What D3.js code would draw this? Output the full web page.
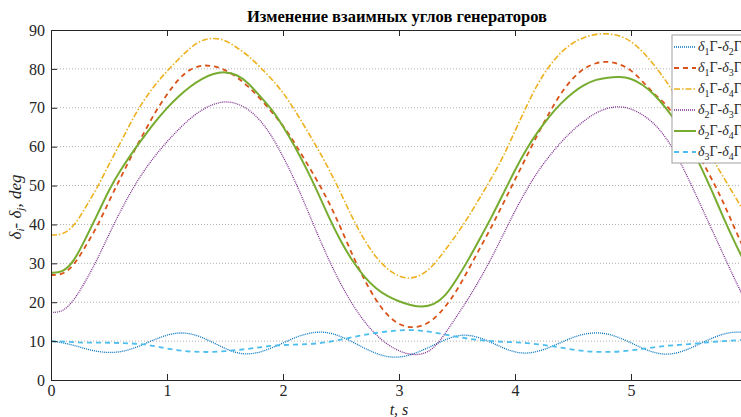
<!DOCTYPE html>
<html>
<head>
<meta charset="utf-8">
<script src="https://cdn.jsdelivr.net/npm/d3@7"></script>
<style>
  body { margin: 0; background: #fff; }
  svg { display: block; font-family: "Liberation Serif", "Times New Roman", serif; }
  .axis text { font-family: "Liberation Serif", "Times New Roman", serif; font-size: 16px; fill: #262626; }
  .axis path, .axis line { stroke: #262626; stroke-width: 1; }
</style>
</head>
<body>
<svg width="741" height="417"></svg>
<script>
var t = [0,0.1,0.2,0.3,0.4,0.5,0.6,0.7,0.8,0.9,1.0,1.1,1.2,1.3,1.4,1.5,1.6,1.7,1.8,1.9,
         2.0,2.1,2.2,2.3,2.4,2.5,2.6,2.7,2.8,2.9,3.0,3.1,3.2,3.3,3.4,3.5,3.6,3.7,3.8,3.9,
         4.0,4.1,4.2,4.3,4.4,4.5,4.6,4.7,4.8,4.9,5.0,5.1,5.2,5.3,5.4,5.5,5.6,5.7,5.8,5.9,6.0];

// d1-d2
var d12 = [10,9.6,8.9,8.0,7.3,7.0,7.2,8.0,9.2,10.5,11.6,12.2,12.0,11.0,9.6,8.1,6.9,6.6,7.1,8.2,
           9.5,10.9,11.9,12.4,12.2,11.2,9.8,8.2,6.8,5.9,5.8,6.4,7.6,9.0,10.4,11.5,11.6,10.9,9.6,8.2,
           7.1,6.8,7.3,8.4,9.7,11.0,11.9,12.2,11.9,10.9,9.6,8.1,7.0,6.5,6.9,8.0,9.4,10.8,11.9,12.4,12.2];
// d1-d3
var d13 = [27,27,29.5,34.5,39.5,46,52,58,63.5,69,73.5,77.5,80,81,80.8,79.8,78,75.5,72.5,69,
           65.5,61,56,51,45.5,39,32,25.8,20.5,16.5,14.2,13.4,13.8,15.5,18.8,23,28.5,34,39.5,45.5,
           51.5,57.5,63.5,69,74,77.8,80.3,81.6,82,81.3,79.8,76.8,73.5,71,67,62.5,57,51.5,45.5,38.5,32];
// d1-d4
var d14 = [37.3,37.3,39.5,44.5,49.5,55.5,61,67,72,76,79.5,82.5,85.5,87.5,88,87.5,85.5,83.5,80.5,77.5,
           74,69.5,64.5,59.5,54,48,41.5,36,31.5,28.5,26.5,26,27,29.5,33.5,37.5,42,47,52,57.5,
           64,70.5,76.5,81,84.5,86.8,88.2,89,89.1,88.6,87.2,84.5,81,77,72.5,67.5,62.5,57,52,47,42];
// d2-d3
var d23 = [17.4,17.4,20.5,25.5,31,37.5,43.5,49,53.8,57.8,61.3,64.5,67.3,69.5,71,71.7,71.2,69.7,67,63,
           57.5,51.5,44.5,37.3,30.5,24.5,19.3,15,11.6,9.1,7.4,6.5,6.5,8,12,16.5,21,26,31.5,37.5,
           43.5,49,53.8,57.8,61.3,64.3,66.8,68.8,70,70.4,69.8,68.3,66,62.5,57.5,51.5,45,38.5,32,25.5,19.5];
// d2-d4
var d24 = [27.6,27.6,30.5,36.5,42.5,49,54,58.5,62.5,66.5,70,73,75.5,77.5,78.8,79.3,78.6,76.5,73,69.8,
           65.3,60.2,54.5,48.3,41.5,35.5,30.5,26.5,23.5,21.5,20.2,19.2,18.7,19.3,21.5,26,31,36.5,42,48,
           54,59.5,64,68,71.3,74,76,77.3,77.8,78,77.6,76,73.5,70,66,61,55,48.5,41.5,35,29];
// d3-d4
var d34 = [10,9.9,9.7,9.6,9.6,9.6,9.5,9.4,9.2,8.7,8.1,7.6,7.3,7.2,7.2,7.4,7.7,8.0,8.4,8.8,
           9.0,9.1,9.2,9.4,9.8,10.4,11.0,11.6,12.1,12.5,12.8,12.9,12.7,12.2,11.7,11.1,10.6,10.2,10.0,9.8,
           9.7,9.5,9.2,8.8,8.3,7.8,7.4,7.2,7.2,7.3,7.6,8.0,8.4,8.8,9.0,9.2,9.5,9.8,10.0,10.2,10.4];

var xTicks = [0,1,2,3,4,5];
var yTicks = [0,10,20,30,40,50,60,70,80,90];
var gridVals = [10,20,30,40,50,60,70,80];

var series = [
  {a: 1, b: 2, values: d12, color: "#0072BD", dash: "1,1", width: 1.3},
  {a: 1, b: 3, values: d13, color: "#D95319", dash: "5,4", width: 1.8},
  {a: 1, b: 4, values: d14, color: "#EDB120", dash: "6,2,1.5,2", width: 1.6},
  {a: 2, b: 3, values: d23, color: "#7E2F8E", dash: "1,1", width: 1.3},
  {a: 2, b: 4, values: d24, color: "#77AC30", dash: null, width: 2},
  {a: 3, b: 4, values: d34, color: "#4DBEEE", dash: "5,4", width: 1.8}
];

var svg = d3.select("svg");
var pLeft = 51, pRight = 747, pTop = 30, pBottom = 380;

var x = d3.scaleLinear().domain([0, 6]).range([pLeft, pRight]);
var y = d3.scaleLinear().domain([0, 90]).range([pBottom, pTop]);

svg.append("defs").append("clipPath").attr("id", "clip")
  .append("rect").attr("x", pLeft).attr("y", pTop)
  .attr("width", pRight - pLeft).attr("height", pBottom - pTop);

// grid
svg.append("g").selectAll("line").data(gridVals).enter().append("line")
  .attr("x1", pLeft).attr("x2", pRight)
  .attr("y1", d => y(d)).attr("y2", d => y(d))
  .attr("stroke", "#b0b0b0").attr("stroke-width", 1)
  .attr("stroke-dasharray", "1,2");

// lines
var line = d3.line().x((d, i) => x(t[i])).y(d => y(d)).curve(d3.curveBasis);
var plot = svg.append("g").attr("clip-path", "url(#clip)");
series.forEach(function(s){
  plot.append("path")
    .attr("d", line(s.values))
    .attr("fill", "none")
    .attr("stroke", s.color)
    .attr("stroke-width", s.width)
    .attr("stroke-dasharray", s.dash);
});

// axes
svg.append("g").attr("class", "axis")
  .attr("transform", "translate(0," + pBottom + ")")
  .call(d3.axisBottom(x).tickValues(xTicks).tickFormat(d3.format("d"))
    .tickSize(-6).tickSizeOuter(0).tickPadding(5));
svg.append("g").attr("class", "axis")
  .attr("transform", "translate(0," + pTop + ")")
  .call(d3.axisTop(x).tickValues(xTicks).tickSize(-6).tickSizeOuter(0).tickFormat(""));
svg.append("g").attr("class", "axis")
  .attr("transform", "translate(" + pLeft + ",0)")
  .call(d3.axisLeft(y).tickValues(yTicks).tickFormat(d3.format("d"))
    .tickSize(-6).tickSizeOuter(0).tickPadding(6));

// title
svg.append("text")
  .attr("x", 397).attr("y", 22)
  .attr("text-anchor", "middle")
  .attr("font-size", 16.5).attr("font-weight", "bold").attr("fill", "#000")
  .text("Изменение взаимных углов генераторов");

// x label
svg.append("text")
  .attr("x", 399).attr("y", 415)
  .attr("text-anchor", "middle")
  .attr("font-size", 16).attr("font-style", "italic").attr("fill", "#262626")
  .text("t, s");

// y label
var yl = svg.append("text")
  .attr("transform", "translate(21,207) rotate(-90)")
  .attr("text-anchor", "middle")
  .attr("font-size", 17).attr("font-style", "italic").attr("fill", "#262626");
yl.append("tspan").text("δ");
yl.append("tspan").attr("font-size", 11).attr("dy", 3).text("i");
yl.append("tspan").attr("dy", -3).text("- δ");
yl.append("tspan").attr("font-size", 11).attr("dy", 3).text("j");
yl.append("tspan").attr("dy", -3).text(", deg");

// legend
var lg = svg.append("g");
lg.append("rect")
  .attr("x", 672).attr("y", 35).attr("width", 90).attr("height", 128)
  .attr("fill", "#fff").attr("stroke", "#a0a0a0").attr("stroke-width", 1);
series.forEach(function(s, i){
  var ly = 47 + i * 21;
  lg.append("line")
    .attr("x1", 674).attr("x2", 696).attr("y1", ly).attr("y2", ly)
    .attr("stroke", s.color).attr("stroke-width", s.width)
    .attr("stroke-dasharray", s.dash);
  var tx = lg.append("text").attr("x", 698).attr("y", ly + 4)
    .attr("font-size", 14).attr("fill", "#262626");
  tx.append("tspan").attr("font-style", "italic").text("δ");
  tx.append("tspan").attr("font-size", 10).attr("dy", 4).text(s.a);
  tx.append("tspan").attr("dy", -4).text("Г-");
  tx.append("tspan").attr("font-style", "italic").text("δ");
  tx.append("tspan").attr("font-size", 10).attr("dy", 4).text(s.b);
  tx.append("tspan").attr("dy", -4).text("Г");
});
</script>
</body>
</html>
